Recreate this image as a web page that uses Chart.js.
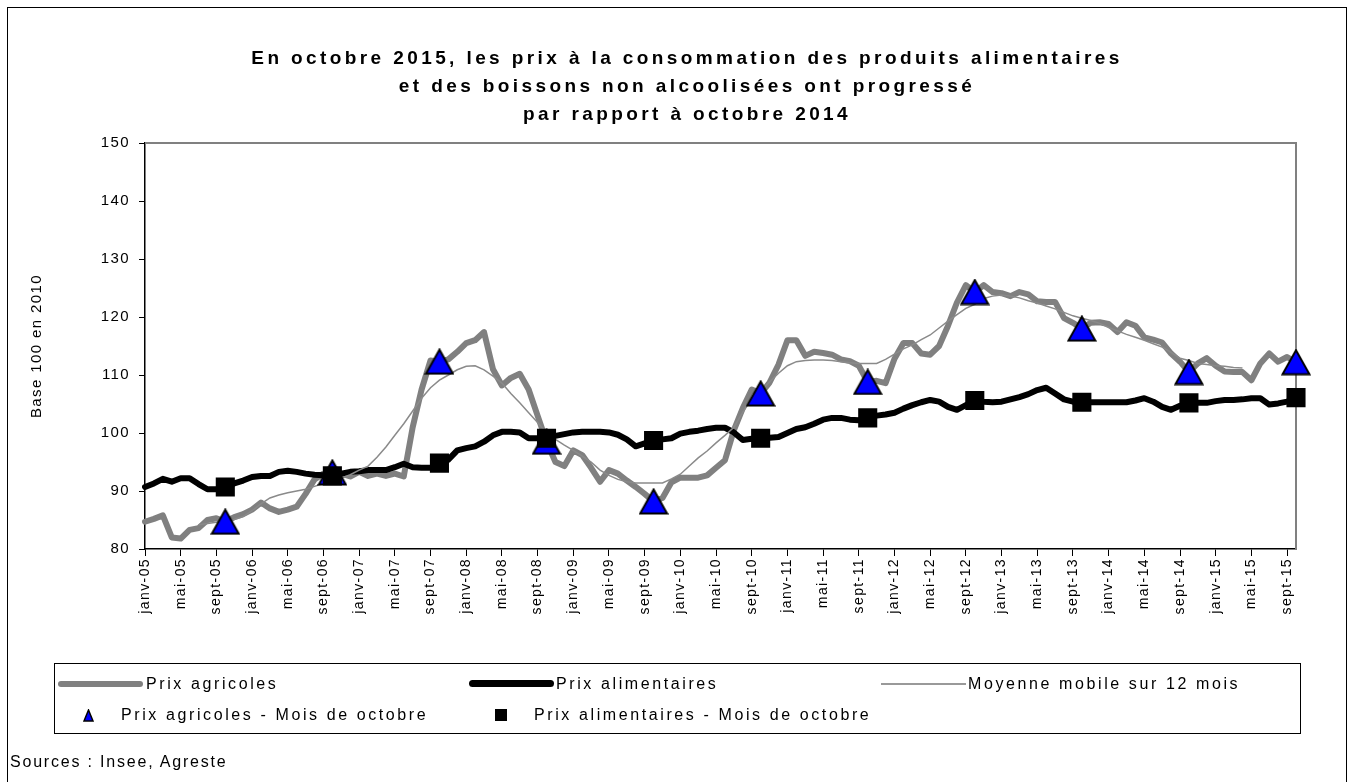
<!DOCTYPE html>
<html lang="fr">
<head>
<meta charset="UTF-8">
<title>Prix agricoles et prix alimentaires</title>
<script src="https://cdn.jsdelivr.net/npm/chart.js"></script>
<style>
    body {
        margin: 0;
        width: 1354px;
        height: 782px;
        overflow: hidden;
        background: #fff;
        font-family: "Liberation Sans", Arial, sans-serif;
        position: relative;
        color: #000;
    }
    .frame {
        position: absolute;
        left: 7px;
        top: 7px;
        width: 1338px;
        height: 800px;
        border: 1px solid #000;
    }
    #wrap {
        position: absolute;
        left: 0;
        top: 0;
        width: 1354px;
        height: 782px;
    }
    .title {
        position: absolute;
        left: 20px;
        width: 1334px;
        top: 44px;
        text-align: center;
        font-weight: bold;
        font-size: 19px;
        line-height: 28px;
        letter-spacing: 3.4px;
    }
    .legend {
        position: absolute;
        left: 54px;
        top: 663px;
        width: 1245px;
        height: 69px;
        border: 1px solid #000;
        font-size: 16px;
        letter-spacing: 2.6px;
    }
    .legend span, .legend div, .legend svg { position: absolute; }
    .legend .txt { line-height: 18px; white-space: nowrap; }
    .sources {
        position: absolute;
        left: 10px;
        top: 753px;
        font-size: 16px;
        letter-spacing: 1.8px;
        white-space: nowrap;
    }
</style>
</head>
<body>
<div class="frame"></div>
<div id="wrap"><canvas id="chart"></canvas></div>
<div class="title">En octobre 2015, les prix à la consommation des produits alimentaires<br>et des boissons non alcoolisées ont progressé<br>par rapport à octobre 2014</div>
<div class="legend">
    <div style="left:3px; top:17px; width:85px; height:6px; background:#808080; border-radius:3px;"></div>
    <span class="txt" style="left:91px; top:11px;">Prix agricoles</span>
    <div style="left:414px; top:16px; width:85px; height:7px; background:#000; border-radius:4px;"></div>
    <span class="txt" style="left:501px; top:11px;">Prix alimentaires</span>
    <div style="left:826px; top:19px; width:85px; height:2px; background:#999;"></div>
    <span class="txt" style="left:913px; top:11px;">Moyenne mobile sur 12 mois</span>
    <svg style="left:28px; top:45px;" width="11" height="13"><polygon points="5.5,1 1,12 10,12" fill="#0000ff" stroke="#000" stroke-width="1.5"/></svg>
    <span class="txt" style="left:66px; top:42px;">Prix agricoles - Mois de octobre</span>
    <div style="left:440px; top:45px; width:12px; height:12px; background:#000;"></div>
    <span class="txt" style="left:479px; top:42px;">Prix alimentaires - Mois de octobre</span>
</div>
<div class="sources">Sources : Insee, Agreste</div>

<script>
// mois (janv-05 .. oct-15)
const monthNames = ['janv', 'févr', 'mars', 'avr', 'mai', 'juin', 'juil', 'août', 'sept', 'oct', 'nov', 'déc'];
const years = ['05', '06', '07', '08', '09', '10', '11', '12', '13', '14', '15'];

// Prix agricoles, base 100 en 2010
const prixAgricoles = [
    84.7, 85.2, 85.8, 82.0, 81.8, 83.3, 83.6, 85.0, 85.3, 84.7, 85.5, 86.0,
    86.8, 88.0, 87.0, 86.4, 86.8, 87.3, 89.5, 92.0, 93.0, 93.2, 93.0, 92.5,
    93.3, 92.6, 93.0, 92.6, 93.0, 92.5, 101.0, 107.5, 112.5, 112.3, 112.7, 114.0,
    115.5, 116.0, 117.4, 111.0, 108.2, 109.5, 110.2, 107.5, 103.0, 98.5, 95.0, 94.3,
    97.0, 96.2, 94.0, 91.6, 93.6, 93.0, 91.8, 90.7, 89.5, 88.2, 88.8, 91.5,
    92.3, 92.3, 92.3, 92.7, 94.0, 95.3, 100.5, 104.3, 107.5, 106.8, 108.7, 111.8,
    116.0, 116.0, 113.3, 114.0, 113.8, 113.5, 112.7, 112.4, 111.6, 108.8, 109.0, 108.6,
    112.8, 115.5, 115.5, 113.7, 113.5, 115.0, 118.5, 122.5, 125.5, 124.3, 125.5, 124.3,
    124.1, 123.6, 124.3, 123.9, 122.7, 122.6, 122.6, 119.8, 119.0, 118.0, 119.0, 119.1,
    118.8, 117.4, 119.1, 118.5, 116.5, 116.1, 115.6, 113.7, 112.3, 110.5, 112.0, 112.9,
    111.6, 110.6, 110.5, 110.5, 109.1, 112.0, 113.7, 112.3, 113.1, 112.2
];

// Prix alimentaires
const prixAlimentaires = [
    90.7, 91.3, 92.1, 91.6, 92.2, 92.2, 91.2, 90.3, 90.3, 90.7, 91.3, 91.8,
    92.4, 92.6, 92.6, 93.3, 93.5, 93.3, 93.0, 92.8, 92.7, 92.6, 93.0, 93.3,
    93.4, 93.6, 93.6, 93.6, 94.1, 94.7, 94.1, 94.0, 94.0, 94.8, 95.4, 97.0,
    97.4, 97.7, 98.5, 99.6, 100.2, 100.2, 100.1, 99.1, 99.1, 99.1, 99.5, 99.8,
    100.1, 100.2, 100.2, 100.2, 100.1, 99.7, 98.9, 97.7, 98.2, 98.7, 98.9, 99.1,
    99.9, 100.2, 100.4, 100.7, 100.9, 100.9, 100.1, 98.8, 99.0, 99.1, 99.2, 99.3,
    100.0, 100.7, 101.0, 101.6, 102.3, 102.6, 102.6, 102.3, 102.2, 102.6, 103.0, 103.2,
    103.5, 104.2, 104.8, 105.3, 105.7, 105.4, 104.5, 104.0, 104.8, 105.6, 105.4, 105.3,
    105.4, 105.8, 106.2, 106.7, 107.4, 107.8, 106.8, 105.8, 105.4, 105.3, 105.3, 105.3,
    105.3, 105.3, 105.3, 105.6, 106.0, 105.4, 104.5, 104.0, 104.7, 105.2, 105.2, 105.2,
    105.5, 105.7, 105.7, 105.8, 106.0, 106.0, 104.9, 105.1, 105.4, 106.1
];

// Moyenne mobile sur 12 mois (prix agricoles)
const moyenneMobile = [
    null, null, null, null, null, null, 84.2, 84.4, 84.6, 84.8, 85.1, 85.6,
    86.6, 87.8, 88.8, 89.3, 89.7, 90.0, 90.3, 90.8, 91.3, 91.7, 92.2, 92.8,
    93.6, 94.3, 95.8, 97.6, 99.6, 101.6, 103.8, 106.0, 107.8, 109.1, 110.0, 110.9,
    111.5, 111.6, 110.9, 109.8, 108.6, 106.8, 105.2, 103.5, 101.8, 100.0, 98.9, 97.9,
    97.0, 96.0, 95.0, 93.6, 92.7, 92.0, 91.6, 91.4, 91.4, 91.4, 91.4, 92.1,
    92.9, 94.3, 95.7, 96.9, 98.3, 99.6, 101.0, 103.6, 105.8, 107.3, 108.8, 110.3,
    111.6, 112.3, 112.5, 112.6, 112.6, 112.5, 112.3, 112.1, 112.0, 112.0, 112.0, 112.7,
    113.6, 114.5, 115.2, 116.1, 116.9, 118.1, 119.3, 120.4, 121.5, 122.2, 123.2, 123.6,
    123.8, 123.6, 123.3, 122.8, 122.4, 121.9, 121.4, 120.8, 120.2, 119.8, 119.4, 118.9,
    118.2, 117.6, 117.0, 116.5, 116.0, 115.4, 114.8, 113.9, 112.9, 112.5, 112.0, 111.8,
    111.6, 111.5, 111.3, 111.2, null, null, null, null, null, null
];

// mois d'octobre, 2005 .. 2015
const octAgricoles = [84.7, 93.2, 112.3, 98.5, 88.2, 106.8, 108.8, 124.3, 118.0, 110.5, 112.2];
const octAlimentaires = [90.7, 92.6, 94.8, 99.1, 98.7, 99.1, 102.6, 105.6, 105.3, 105.2, 106.1];

const labels = [];
years.forEach(y => monthNames.forEach(m => labels.push(m + '-' + y)));
labels.length = prixAgricoles.length;

// place the october values on the monthly axis
function octSeries(values) {
    const out = labels.map(() => null);
    values.forEach((v, k) => { out[9 + 12 * k] = v; });
    return out;
}

// blue triangle marker, centred on its box like the spreadsheet one
const tri = document.createElement('canvas');
tri.width = 30;
tri.height = 27;
(function () {
    const c = tri.getContext('2d');
    c.beginPath();
    c.moveTo(15, 1.5);
    c.lineTo(28.5, 25.5);
    c.lineTo(1.5, 25.5);
    c.closePath();
    c.fillStyle = '#0000ff';
    c.fill();
    c.lineWidth = 2;
    c.strokeStyle = '#000';
    c.stroke();
})();

const plotFrame = {
    id: 'plotFrame',
    beforeLayout(chart) { chart.ctx.letterSpacing = '1.4px'; },
    beforeDraw(chart) { chart.ctx.letterSpacing = '1.4px'; },
    beforeDatasetsDraw(chart) {
        const { ctx, chartArea: a } = chart;
        ctx.save();
        ctx.strokeStyle = '#808080';
        ctx.lineWidth = 2;
        ctx.beginPath();
        ctx.moveTo(a.left, a.top);
        ctx.lineTo(a.right, a.top);
        ctx.lineTo(a.right, a.bottom);
        ctx.stroke();
        ctx.restore();
    }
};

Chart.defaults.font.family = '"Liberation Sans", Arial, sans-serif';
Chart.defaults.color = '#000';

new Chart(document.getElementById('chart'), {
    type: 'line',
    data: {
        labels: labels,
        datasets: [
            {
                label: 'Prix alimentaires - Mois de octobre',
                data: octSeries(octAlimentaires),
                showLine: false,
                pointStyle: 'rect',
                pointRadius: 13.5,
                pointBackgroundColor: '#000',
                pointBorderColor: '#000',
                pointBorderWidth: 0,
                order: 1
            },
            {
                label: 'Prix agricoles - Mois de octobre',
                data: octSeries(octAgricoles),
                showLine: false,
                pointStyle: tri,
                pointRadius: 14,
                order: 2
            },
            {
                label: 'Moyenne mobile sur 12 mois',
                data: moyenneMobile,
                borderColor: '#8a8a8a',
                borderWidth: 1.5,
                pointRadius: 0,
                tension: 0,
                order: 3
            },
            {
                label: 'Prix alimentaires',
                data: prixAlimentaires,
                borderColor: '#000',
                borderWidth: 6,
                borderJoinStyle: 'round',
                borderCapStyle: 'round',
                pointRadius: 0,
                tension: 0,
                order: 4
            },
            {
                label: 'Prix agricoles',
                data: prixAgricoles,
                borderColor: '#808080',
                borderWidth: 6,
                borderJoinStyle: 'round',
                borderCapStyle: 'round',
                pointRadius: 0,
                tension: 0,
                order: 5
            }
        ]
    },
    options: {
        responsive: true,
        maintainAspectRatio: false,
        animation: false,
        events: [],
        layout: { padding: { left: 25, right: 58, top: 143, bottom: 133 } },
        plugins: {
            legend: { display: false },
            title: { display: false },
            tooltip: { enabled: false }
        },
        scales: {
            x: {
                offset: false,
                afterFit(scale) { scale.height = 100; },
                border: { color: '#000', width: 1.5 },
                grid: { drawOnChartArea: false, drawTicks: true, tickLength: 7, color: '#000' },
                ticks: {
                    autoSkip: false,
                    maxRotation: 90,
                    minRotation: 90,
                    padding: 2,
                    font: { size: 14 },
                    callback: function (value, index) {
                        return index % 4 === 0 ? this.getLabelForValue(value) : null;
                    }
                }
            },
            y: {
                min: 80,
                max: 150,
                afterFit(scale) { scale.width = 120; },
                border: { color: '#000', width: 1.5 },
                grid: { drawOnChartArea: false, drawTicks: true, tickLength: 6, color: '#000' },
                ticks: { stepSize: 10, padding: 9, font: { size: 15 } },
                title: {
                    display: true,
                    text: 'Base 100 en 2010',
                    font: { size: 15 },
                    padding: { top: 3, bottom: 0 }
                }
            }
        }
    },
    plugins: [plotFrame]
});
</script>
</body>
</html>
